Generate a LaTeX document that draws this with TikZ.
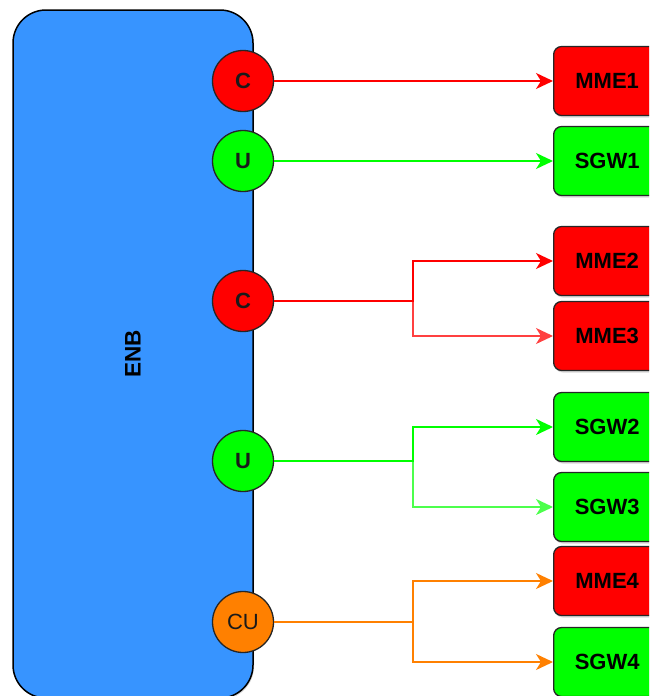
\documentclass[tikz,border=0pt]{standalone}
\usepackage{fontspec}
\setmainfont{Liberation Sans}
\usetikzlibrary{arrows.meta,shadows}
\definecolor{enbblue}{HTML}{3794FF}
\definecolor{cred}{HTML}{FF0000}
\definecolor{cgreen}{HTML}{00FF00}
\definecolor{corange}{HTML}{FF8000}
\definecolor{txtdark}{HTML}{1A1A1A}
\begin{document}
\begin{tikzpicture}[x=1pt,y=-1pt,
  enbbox/.style={draw=black,line width=1.5pt,fill=enbblue,rounded corners=33pt,
    minimum width=240pt,minimum height=688pt,inner sep=0pt,
    drop shadow={shadow xshift=1pt,shadow yshift=-1.5pt,opacity=0.35,fill=gray}},
  port/.style={circle,draw=black!85,line width=1.3pt,minimum size=61pt,inner sep=0pt,
    font=\bfseries\fontsize{22}{24}\selectfont,text=txtdark},
  srv/.style={draw=black!85,line width=1.3pt,rounded corners=8pt,minimum width=107pt,
    minimum height=69pt,inner sep=0pt,anchor=west,font=\bfseries\fontsize{22}{24}\selectfont,
    drop shadow={shadow xshift=1pt,shadow yshift=-2pt,opacity=0.3,fill=gray}},
  link/.style={line width=1.7pt,-{Stealth[length=17pt,width=16pt,inset=5pt]}}
]
\useasboundingbox (0,0) rectangle (649,696);
\begin{scope}
\clip (0,0) rectangle (649,696);
\node[enbbox] (enb) at (133,354) {};
\node[rotate=90,font=\bfseries\fontsize{22.5}{24}\selectfont] (enbl) at (133,354) {ENB};

\node[port,fill=cred] (c1) at (243,81) {C};
\node[port,fill=cgreen] (u1) at (243,161) {U};
\node[port,fill=cred] (c2) at (243,301) {C};
\node[port,fill=cgreen] (u2) at (243,461) {U};
\node[port,fill=corange,font=\fontsize{22}{24}\selectfont] (cu) at (243,622) {CU};

\node[srv,fill=cred] (mme1) at (553,81) {MME1};
\node[srv,fill=cgreen] (sgw1) at (553,161) {SGW1};
\node[srv,fill=cred] (mme2) at (553,261) {MME2};
\node[srv,fill=cred] (mme3) at (553,336) {MME3};
\node[srv,fill=cgreen] (sgw2) at (553,427) {SGW2};
\node[srv,fill=cgreen] (sgw3) at (553,507) {SGW3};
\node[srv,fill=cred] (mme4) at (553,581) {MME4};
\node[srv,fill=cgreen] (sgw4) at (553,662) {SGW4};

\coordinate (j1) at (413,301);
\coordinate (j2) at (413,461);
\coordinate (j3) at (413,622);

\draw[link,cred] (c1) -- (mme1);
\draw[link,cgreen] (u1) -- (sgw1);
\draw[link,cred!75] (c2) -- (j1) |- (mme3);
\draw[link,cred] (c2) -- (j1) |- (mme2);
\draw[link,cgreen!70] (u2) -- (j2) |- (sgw3);
\draw[link,cgreen] (u2) -- (j2) |- (sgw2);
\draw[link,corange] (cu) -- (j3) |- (mme4);
\draw[link,corange] (cu) -- (j3) |- (sgw4);
\end{scope}
\end{tikzpicture}
\end{document}
